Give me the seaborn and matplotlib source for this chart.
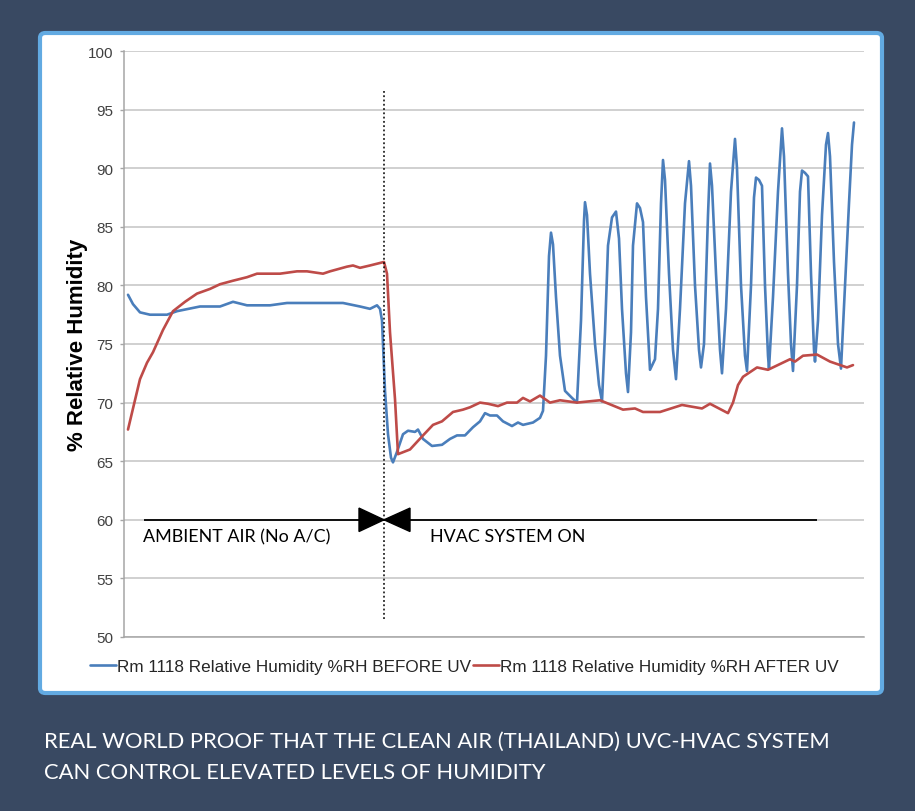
"""
Room 1118 relative humidity before / after the UVC-HVAC install.
"""
import matplotlib

matplotlib.use("Agg")

import matplotlib.pyplot as plt
import pandas as pd
import seaborn as sns
from matplotlib import font_manager
from matplotlib.patches import FancyBboxPatch, Polygon

BEFORE_LABEL = "Rm 1118 Relative Humidity %RH BEFORE UV"
AFTER_LABEL = "Rm 1118 Relative Humidity %RH AFTER UV"

# reading number -> %RH
before_t = [
    0, 5, 12, 22, 39, 49, 72, 92, 105, 119, 142, 159, 215, 232, 242, 249, 252, 254,
    257, 260, 263, 265, 269, 275, 280, 287, 290, 295, 304, 314, 322, 329, 337, 345,
    352, 357, 362, 369, 375, 384, 390, 395, 405, 412, 415, 418, 421, 423, 425, 428,
    432, 437, 444, 449, 453, 456, 457, 459, 462, 467, 471, 474, 477, 480, 484, 488,
    491, 494, 498, 500, 503, 505, 509, 512, 515, 518, 522, 527, 530, 533, 535, 537,
    541, 545, 548, 552, 557, 561, 563, 567, 571, 573, 576, 580, 582, 584, 588, 592,
    594, 598, 603, 607, 609, 613, 617, 619, 623, 626, 628, 631, 634, 637, 640, 641,
    645, 650, 654, 656, 660, 663, 665, 669, 672, 674, 677, 680, 683, 686, 687, 690,
    694, 698, 700, 702, 706, 710, 713, 717, 721, 724, 726,
]
before_rh = [
    79.2, 78.4, 77.7, 77.5, 77.5, 77.8, 78.2, 78.2, 78.6, 78.3, 78.3, 78.5, 78.5, 78.2,
    78.0, 78.3, 78.0, 77.0, 71.0, 67.3, 65.3, 64.9, 65.8, 67.3, 67.6, 67.5, 67.7, 66.9,
    66.3, 66.4, 66.9, 67.2, 67.2, 67.9, 68.4, 69.1, 68.9, 68.9, 68.4, 68.0, 68.3, 68.1,
    68.3, 68.7, 69.3, 74.0, 82.5, 84.5, 83.5, 79.0, 74.0, 71.0, 70.4, 70.0, 77.0, 85.5,
    87.1, 86.0, 81.0, 75.0, 71.5, 70.1, 76.0, 83.4, 85.8, 86.3, 84.0, 78.0, 72.5, 70.9,
    76.0, 83.4, 87.0, 86.6, 85.4, 79.0, 72.8, 73.7, 78.0, 87.0, 90.7, 89.0, 81.0, 74.5,
    72.0, 78.0, 87.0, 90.6, 88.5, 80.0, 74.5, 73.0, 75.0, 86.0, 90.4, 88.5, 81.0, 74.5,
    72.5, 78.0, 88.0, 92.5, 90.0, 80.0, 74.0, 72.7, 80.0, 87.5, 89.2, 89.0, 88.5, 80.0,
    74.0, 72.9, 79.0, 88.0, 93.4, 91.0, 81.0, 75.0, 72.7, 80.0, 88.0, 89.8, 89.6, 89.3,
    81.0, 74.5, 73.5, 77.0, 86.0, 92.0, 93.0, 91.0, 82.0, 75.0, 72.9, 80.0, 87.0, 92.0,
    93.9,
]
after_t = [
    0, 5, 12, 19, 25, 35, 45, 57, 69, 82, 92, 105, 119, 129, 152, 169, 179, 195, 202,
    219, 225, 232, 242, 256, 259, 262, 267, 270, 282, 295, 305, 314, 325, 335, 342,
    352, 360, 370, 379, 389, 395, 402, 412, 422, 432, 449, 472, 495, 507, 515, 532,
    554, 574, 582, 600, 605, 610, 615, 629, 640, 662, 667, 675, 689, 702, 719, 725,
]
after_rh = [
    67.7, 69.5, 72.0, 73.4, 74.3, 76.2, 77.8, 78.6, 79.3, 79.7, 80.1, 80.4, 80.7, 81.0,
    81.0, 81.2, 81.2, 81.0, 81.2, 81.6, 81.7, 81.5, 81.7, 82.0, 81.0, 76.0, 70.3, 65.6,
    66.0, 67.2, 68.1, 68.4, 69.2, 69.4, 69.6, 70.0, 69.9, 69.7, 70.0, 70.0, 70.4, 70.1,
    70.6, 70.0, 70.2, 70.0, 70.2, 69.4, 69.5, 69.2, 69.2, 69.8, 69.5, 69.9, 69.1, 70.0,
    71.5, 72.2, 73.0, 72.8, 73.7, 73.5, 74.0, 74.1, 73.5, 73.0, 73.2,
]

y_ticks = list(range(50, 101, 5))
switch_t = 256  # reading where the HVAC was switched on
phase_labels = ["AMBIENT AIR (No A/C)", "HVAC SYSTEM ON"]
caption_lines = [
    "REAL WORLD PROOF THAT THE CLEAN AIR (THAILAND) UVC-HVAC SYSTEM",
    "CAN CONTROL ELEVATED LEVELS OF HUMIDITY",
]

BG = "#394962"
BLUE = "#4a7ebb"
RED = "#be4b48"
GRID = "#c4c4c4"

W, H = 915, 812


def _fonts():
    sns.set_theme(style="white")
    available = {f.name for f in font_manager.fontManager.ttflist}
    base = "Liberation Sans" if "Liberation Sans" in available else "DejaVu Sans"
    plt.rcParams["font.family"] = [base, "DejaVu Sans"]
    soft = "Lato" if "Lato" in available else base
    return [soft, "DejaVu Sans"]


def main():
    soft_font = _fonts()

    df = pd.concat(
        [
            pd.DataFrame({"t": before_t, "rh": before_rh, "series": BEFORE_LABEL}),
            pd.DataFrame({"t": after_t, "rh": after_rh, "series": AFTER_LABEL}),
        ],
        ignore_index=True,
    )

    fig = plt.figure(figsize=(W / 100, H / 100), dpi=100, facecolor=BG)
    panel = FancyBboxPatch(
        (40 / W, 1 - 694 / H), 842 / W, 660 / H,
        boxstyle="round,pad=0,rounding_size=0.006",
        transform=fig.transFigure, facecolor="white", edgecolor="#62aae2",
        linewidth=3, zorder=-5,
    )
    fig.patches.append(panel)

    ax = fig.add_axes([124 / W, 1 - 638 / H, 740 / W, 586 / H])
    ax.set_zorder(2)
    ax.set_facecolor("white")

    sns.lineplot(
        data=df, x="t", y="rh", hue="series", estimator=None,
        palette={BEFORE_LABEL: BLUE, AFTER_LABEL: RED},
        hue_order=[BEFORE_LABEL, AFTER_LABEL], linewidth=1.9, ax=ax,
    )

    ax.set_xlim(-4, 736)
    ax.set_ylim(50, 100)
    ax.set_yticks(y_ticks)
    ax.set_xticks([])
    ax.set_xlabel("")
    ax.grid(axis="y", color=GRID, linewidth=1.1)
    ax.set_axisbelow(True)
    for side in ["top", "right"]:
        ax.spines[side].set_visible(False)
    for side in ["left", "bottom"]:
        ax.spines[side].set_color("#a6a6a6")
        ax.spines[side].set_linewidth(1.1)
    ax.tick_params(axis="y", direction="out", length=3, width=1, color="#a6a6a6",
                   labelsize=11, labelcolor="#404040", pad=5, left=True)

    ax.set_ylabel("% Relative Humidity", fontsize=16, fontweight="bold", color="black")
    ax.yaxis.set_label_coords(-0.049, 0.5)

    # phase annotation
    ax.hlines(60, 16, 689, color="black", linewidth=1.3, zorder=3)
    ax.vlines(switch_t, 51.5, 96.6, color="black", linewidth=1.1,
              linestyles=(0, (1.2, 1.6)), zorder=3)
    ax.add_patch(Polygon([(switch_t - 25, 61.0), (switch_t - 25, 59.0), (switch_t, 60)],
                         closed=True, color="black", zorder=4))
    ax.add_patch(Polygon([(switch_t + 26, 61.0), (switch_t + 26, 59.0), (switch_t, 60)],
                         closed=True, color="black", zorder=4))
    ax.text(15, 58.6, phase_labels[0], fontsize=12.9, family=soft_font,
            va="center", ha="left", color="black")
    ax.text(302, 58.6, phase_labels[1], fontsize=12.9, family=soft_font,
            va="center", ha="left", color="black")

    sns.move_legend(
        ax, "center", bbox_to_anchor=(0.46, -0.051), ncol=2, frameon=False,
        title=None, fontsize=12.3, handlelength=1.5, handletextpad=0.1,
        columnspacing=0.1,
    )
    for text in ax.get_legend().get_texts():
        text.set_color("#262626")

    for i, line in enumerate(caption_lines):
        fig.text(44 / W, 1 - (742 + 31 * i) / H, line, color="white", fontsize=15.8,
                 family=soft_font, va="center", ha="left")

    fig.savefig("out.png", dpi=100, facecolor=BG)
    plt.close(fig)


if __name__ == "__main__":
    main()
